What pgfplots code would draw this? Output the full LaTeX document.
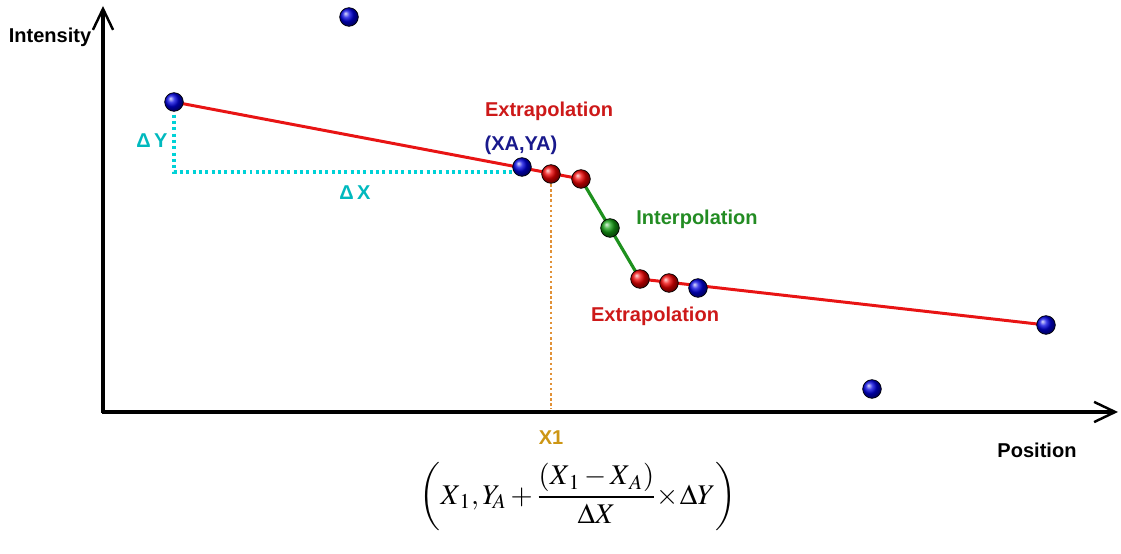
\documentclass[border=0pt]{standalone}
\usepackage{mathptmx}
\usepackage{pgfplots}
\pgfplotsset{compat=1.18}
\usepackage{fontspec}
\setmainfont{Liberation Sans}
\usetikzlibrary{arrows.meta}

\definecolor{lineRed}{RGB}{232,20,20}
\definecolor{txtRed}{RGB}{205,25,25}
\definecolor{lineGreen}{RGB}{30,145,30}
\definecolor{txtGreen}{RGB}{35,140,35}
\definecolor{ptBlue}{RGB}{0,0,225}
\definecolor{ptRed}{RGB}{240,0,0}
\definecolor{ptGreen}{RGB}{20,160,20}
\definecolor{txtBlue}{RGB}{25,25,140}
\definecolor{dotCyan}{RGB}{0,210,215}
\definecolor{txtCyan}{RGB}{0,185,190}
\definecolor{dotOrange}{RGB}{225,145,55}
\definecolor{txtOrange}{RGB}{205,150,20}

\newcommand{\lbl}{\fontsize{11.4}{13}\selectfont\bfseries}

\begin{document}
\begin{tikzpicture}
\begin{axis}[
  x=0.2cm, y=0.2cm,
  xmin=-10.3, xmax=101.8, ymin=-14.2, ymax=41.2,
  hide axis, clip=false,
]
% frame of the picture
\path (rel axis cs:0,0) rectangle (rel axis cs:1,1);

% axes with open arrow heads
\draw[line width=2.8pt, -{Straight Barb[length=12pt,width=11.5pt,line width=1.4pt]}]
  (axis cs:0,-0.1) -- (axis cs:0,40.6);
\draw[line width=2.8pt, -{Straight Barb[length=12pt,width=11.5pt,line width=1.4pt]}]
  (axis cs:-0.1,0) -- (axis cs:101.5,0);

% guide lines
\addplot[dotCyan, line width=1.9pt, dash pattern=on 1.7pt off 1.9pt]
  coordinates {(7.1,31.0) (7.1,24.0) (41.9,24.0)};
\addplot[dotOrange, line width=1.3pt, dash pattern=on 1.4pt off 1.5pt]
  coordinates {(44.8,23.8) (44.8,0.3)};

% fitted segments
\addplot[lineRed, line width=1.7pt] coordinates {(7.1,31.0) (47.8,23.3)};
\addplot[lineGreen, line width=1.8pt] coordinates {(47.8,23.3) (50.7,18.4) (53.7,13.3)};
\addplot[lineRed, line width=1.7pt] coordinates {(53.7,13.3) (94.3,8.7)};

% measured points
\addplot[only marks, mark=ball, mark size=5.3pt, mark options={ball color=ptBlue}]
  coordinates {(24.6,39.5) (7.1,31.0) (41.9,24.5) (59.5,12.4) (94.3,8.7) (76.9,2.3)};
% extrapolated points
\addplot[only marks, mark=ball, mark size=5.3pt, mark options={ball color=ptRed}]
  coordinates {(44.8,23.8) (47.8,23.3) (53.7,13.3) (56.6,12.9)};
% interpolated point
\addplot[only marks, mark=ball, mark size=5.3pt, mark options={ball color=ptGreen}]
  coordinates {(50.7,18.4)};

% labels
\node[font=\lbl] at (axis cs:-5.3,37.5) {Intensity};
\node[font=\lbl] at (axis cs:93.4,-3.8) {Position};
\node[font=\lbl, text=txtRed] at (axis cs:44.6,30.1) {Extrapolation};
\node[font=\lbl, text=txtBlue] at (axis cs:41.8,26.7) {(XA,YA)};
\node[font=\lbl, text=txtCyan] at (axis cs:4.9,27.1) {Δ\,Y};
\node[font=\lbl, text=txtCyan] at (axis cs:25.2,21.9) {Δ\,X};
\node[font=\lbl, text=txtGreen] at (axis cs:59.4,19.3) {Interpolation};
\node[font=\lbl, text=txtRed] at (axis cs:55.2,9.6) {Extrapolation};
\node[font=\lbl, text=txtOrange] at (axis cs:44.8,-2.6) {X1};

\node[font=\fontsize{16.2}{20}\selectfont] at (axis cs:47.5,-8.5)
  {$\displaystyle\left(X_{\,1},Y_{\!A}+\frac{\left(X_{\,1}-X_{\,A}\right)}{\Delta X}\!\times\!\Delta Y\right)$};
\end{axis}
\end{tikzpicture}
\end{document}
